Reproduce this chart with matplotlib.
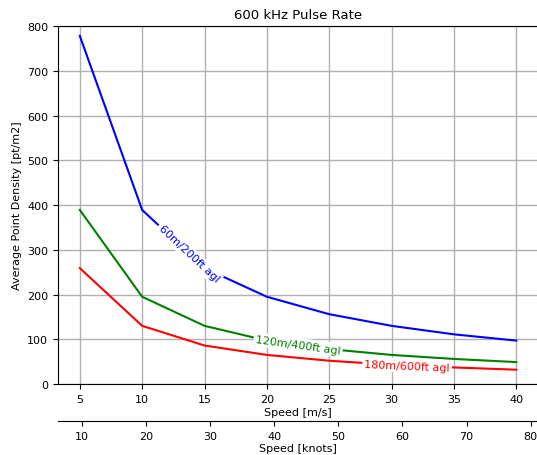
import numpy as np
import matplotlib
matplotlib.use('Agg')
import matplotlib.pyplot as plt

speed_ms = [5, 10, 15, 20, 25, 30, 35, 40]
dens_60m = [778, 389, 259, 195, 156, 130, 111, 97]
dens_120m = [389, 195, 130, 97, 78, 65, 56, 49]
dens_180m = [259, 130, 86, 65, 52, 43, 37, 32]
labels = ['60m/200ft agl', '120m/400ft agl', '180m/600ft agl']
colors = ['blue', 'green', 'red']

KT = 1.943844


def ms2kt(v):
    return np.asarray(v) * KT


def kt2ms(v):
    return np.asarray(v) / KT


plt.rcParams['font.size'] = 8

fig = plt.figure(figsize=(5.37, 4.56), dpi=100)
ax = fig.add_axes([0.108, 0.1557, 0.894, 0.785])

series = [dens_60m, dens_120m, dens_180m]
for ys, lab, c in zip(series, labels, colors):
    ax.plot(speed_ms, ys, color=c, lw=1.5, label=lab)

ax.set_ylim(0, 800)
ax.set_xticks(range(5, 41, 5))
ax.grid(True, color='#b0b0b0', lw=1)
ax.set_axisbelow(True)
ax.set_title('600 kHz Pulse Rate', fontsize=9.5)
ax.set_xlabel('Speed [m/s]', labelpad=2)
ax.set_ylabel('Average Point Density [pt/m2]')

sec = ax.secondary_xaxis(-0.103, functions=(ms2kt, kt2ms))
sec.set_xticks(range(10, 81, 10))
sec.set_xlabel('Speed [knots]', labelpad=2)

# inline labels, evenly spaced along x like labelLines
fig.canvas.draw()
xs_lab = np.linspace(5, 40, len(series) + 2)[1:-1]
for xl, ys, lab, c in zip(xs_lab, series, labels, colors):
    yl = np.interp(xl, speed_ms, ys)
    i = np.searchsorted(speed_ms, xl)
    p1 = ax.transData.transform((speed_ms[i - 1], ys[i - 1]))
    p2 = ax.transData.transform((speed_ms[i], ys[i]))
    ang = np.degrees(np.arctan2(p2[1] - p1[1], p2[0] - p1[0]))
    ax.text(xl, yl, lab, color=c, rotation=ang, rotation_mode='anchor',
            ha='center', va='center', fontsize=8,
            bbox=dict(facecolor='white', edgecolor='none', pad=1.5))

fig.savefig('out.png', dpi=100)
